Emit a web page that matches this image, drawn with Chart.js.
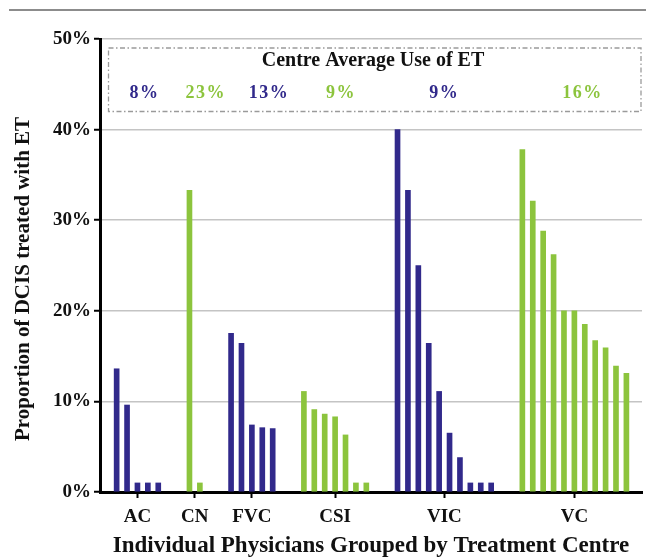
<!DOCTYPE html>
<html>
<head>
<meta charset="utf-8">
<script src="https://cdn.jsdelivr.net/npm/chart.js@4/dist/chart.umd.min.js"></script>
<style>
  html, body { margin: 0; padding: 0; background: #fff; }
  #wrap { width: 646px; height: 557px; }
</style>
</head>
<body>
<div id="wrap"><canvas id="ET-Chart" width="646" height="557"></canvas></div>
<script>
const centres = ["AC", "CN", "FVC", "CSI", "VIC", "VC"];

// proportion (%) of DCIS patients treated with ET, one bar per physician
const acValues = [13.6, 9.6, 1, 1, 1];
const cnValues = [33.3, 1];
const fvcValues = [17.5, 16.4, 7.4, 7.1, 7.0];
const csiValues = [11.1, 9.1, 8.6, 8.3, 6.3, 1, 1];
const vicValues = [40, 33.3, 25, 16.4, 11.1, 6.5, 3.8, 1, 1, 1];
const vcValues = [37.8, 32.1, 28.8, 26.2, 20, 20, 18.5, 16.7, 15.9, 13.9, 13.1];

const centreAverages = [8, 23, 13, 9, 9, 16];

const yTicks = [0, 10, 20, 30, 40, 50];

const BLUE = "#31298b";
const GREEN = "#8cc43d";
const FONT = "'Liberation Serif', 'Times New Roman', serif";

// lay the physicians out side by side, 2 empty slots between centres
const groups = [acValues, cnValues, fvcValues, csiValues, vicValues, vcValues];
const points = [];
const colors = [];
const groupCenters = [];
let slot = 0;
groups.forEach((vals, g) => {
  const start = slot;
  vals.forEach((v) => {
    points.push({ x: slot, y: v });
    colors.push(g % 2 === 0 ? BLUE : GREEN);
    slot++;
  });
  groupCenters.push((start + slot - 1) / 2);
  slot += 2;
});
const lastSlot = slot - 3;

// tweak where the centre average % sits relative to the group middle (px)
const avgShift = [7, 11, 17, 6, 0, 8];

const overlay = {
  id: "overlay",
  afterDraw(chart) {
    const ctx = chart.ctx;
    const area = chart.chartArea;
    const xs = chart.scales.x;
    ctx.save();

    // top rule
    ctx.strokeStyle = "#8c8c8c";
    ctx.lineWidth = 2;
    ctx.beginPath();
    ctx.moveTo(9, 10);
    ctx.lineTo(646, 10);
    ctx.stroke();

    // dashed box
    ctx.strokeStyle = "#9a9a9a";
    ctx.lineWidth = 1.3;
    ctx.setLineDash([5, 2.5, 1.5, 2.5]);
    ctx.strokeRect(area.left + 8.5, area.top + 9, area.right - area.left - 9.5, 63.5);
    ctx.setLineDash([]);

    ctx.textAlign = "center";
    ctx.textBaseline = "middle";
    ctx.fillStyle = "#111";
    ctx.font = "bold 20px " + FONT;
    ctx.fillText("Centre Average Use of ET", 373, 61);

    ctx.font = "bold 18px " + FONT;
    ctx.letterSpacing = "1.5px";
    centreAverages.forEach((a, i) => {
      ctx.fillStyle = i % 2 === 0 ? BLUE : GREEN;
      ctx.fillText(a + "%", xs.getPixelForValue(groupCenters[i]) + avgShift[i], 93);
    });
    ctx.letterSpacing = "0px";

    // y axis title, sits a bit lower than the plot middle
    ctx.translate(24, 279);
    ctx.rotate(-Math.PI / 2);
    ctx.fillStyle = "#111";
    ctx.font = "bold 21px " + FONT;
    ctx.fillText("Proportion of DCIS treated with ET", 0, 0);
    ctx.restore();
  },
};

const config = {
  type: "bar",
  data: {
    datasets: [
      {
        data: points,
        backgroundColor: colors,
        barThickness: 5,
      },
    ],
  },
  plugins: [overlay],
  options: {
    responsive: false,
    animation: false,
    layout: { padding: { left: 0, right: 4, top: 39, bottom: 0 } },
    plugins: {
      legend: { display: false },
      tooltip: { enabled: false },
    },
    scales: {
      x: {
        type: "linear",
        offset: false,
        min: -1.6,
        max: lastSlot + 1.5,
        afterBuildTicks: (scale) => {
          scale.ticks = groupCenters.map((c) => ({ value: c }));
        },
        afterFit: (scale) => {
          scale.height = 557 - 492;
        },
        ticks: {
          autoSkip: false,
          maxRotation: 0,
          padding: 8,
          color: "#111",
          font: { family: FONT, size: 19, weight: "bold" },
          callback: (v, i) => centres[i],
        },
        grid: {
          offset: false,
          drawOnChartArea: false,
          tickLength: 6,
          tickColor: "#000",
          tickWidth: 2,
        },
        border: { color: "#000", width: 3 },
        title: {
          display: true,
          text: "Individual Physicians Grouped by Treatment Centre",
          color: "#111",
          font: { family: FONT, size: 23, weight: "bold" },
          padding: { top: 0, bottom: -3 },
        },
      },
      y: {
        min: 0,
        max: 50,
        afterBuildTicks: (scale) => {
          scale.ticks = yTicks.map((v) => ({ value: v }));
        },
        afterFit: (scale) => {
          scale.width = 100;
        },
        ticks: {
          padding: 3,
          color: "#111",
          font: { family: FONT, size: 19, weight: "bold" },
          callback: (v) => v + "%",
        },
        grid: {
          color: "#c4c4c4",
          lineWidth: 1.5,
          tickLength: 6,
          tickColor: "#000",
          tickWidth: 2,
        },
        border: { color: "#000", width: 3 },
      },
    },
  },
};

let myChart = new Chart(document.getElementById("ET-Chart"), config);
</script>
</body>
</html>
